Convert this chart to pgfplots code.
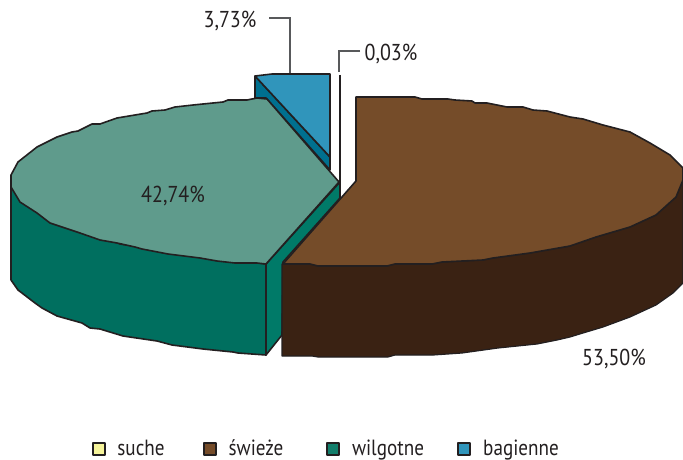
\documentclass[border=0pt]{standalone}
\usepackage{pgfplots}
\pgfplotsset{compat=1.18}
\usepackage{fontspec}
\setmainfont[FakeStretch=0.87]{PT Sans}
\definecolor{ln}{HTML}{231F20}
\definecolor{brT}{HTML}{754C29}
\definecolor{brS}{HTML}{3A2213}
\definecolor{grT}{HTML}{5F9B8C}
\definecolor{grS}{HTML}{006F5F}
\definecolor{grI}{HTML}{007A68}
\definecolor{blT}{HTML}{3095BB}
\definecolor{blS}{HTML}{00708F}
\definecolor{ye}{HTML}{F6F49A}
\definecolor{lg}{HTML}{127E6B}
\definecolor{ld}{HTML}{58595B}
\begin{document}
\begin{tikzpicture}
\useasboundingbox (0,0) rectangle (683pt,460pt);
\begin{axis}[at={(0,0)},anchor=south west,scale only axis,width=683pt,height=460pt,xmin=0,xmax=683,ymin=0,ymax=460,y dir=reverse,axis lines=none,
  every axis plot/.append style={line width=1.6pt,draw=ln,mark=none,line join=round}]
% bagienne
\addplot[fill=blS] coordinates {(255,76)(330,157)(330,170)(266,98)(255,98)} -- cycle;
\addplot[fill=blT] coordinates {(255,76)(272,74)(330,74)(330,157)} -- cycle;
% wilgotne
\addplot[fill=grS] coordinates {(11,187)(11,280)(18,290)(35,303)(42,308)(57,316)(82,323)(90,328)(100,329)(123,336)(157,341)(172,345)(203,349)(233,352)(238,353)(266,355)(266,264)(120,244)} -- cycle;
\addplot[fill=grI] coordinates {(266,264)(340,182)(340,198)(283,262)(282,335)(266,355)} -- cycle;
\addplot[fill=grT] coordinates {(266,264)(339,182)(267,99)(257,98)(247,100)(228,100)(223,102)(193,105)(175,107)(165,110)(152,111)(147,113)(117,118)(100,124)(92,124)(78,131)(72,132)(57,137)(37,147)(18,162)(11,175)(11,187)(20,202)(37,213)(50,223)(80,233)(100,240)(117,243)(135,247)(142,249)(168,254)(200,258)(217,261)(235,263)(257,263)} -- cycle;
% 0,03
\addplot[line width=1.5pt] coordinates {(340,75)(340,182)};
% swieze
\addplot[fill=brS,line width=1.2pt] coordinates {(282,264)(282,356)(312,356)(318,357)(388,357)(395,355)(433,355)(462,353)(498,348)(537,344)(557,340)(570,337)(583,333)(603,327)(630,317)(656,305)(673,293)(683,283)(683,180)(676,197)(656,215)(630,227)(596,237)(570,246)(530,253)(493,258)(483,260)(442,262)(432,264)(395,264)(387,266)(318,266)(310,264)} -- cycle;
\addplot[fill=brT] coordinates {(356,97)(415,97)(422,99)(448,99)(455,100)(472,101)(475,103)(487,103)(507,107)(523,107)(533,110)(547,111)(570,117)(583,119)(603,125)(630,132)(650,143)(670,155)(683,168)(683,180)(676,197)(656,215)(630,227)(596,237)(570,246)(530,253)(493,258)(483,260)(442,262)(432,264)(395,264)(387,266)(318,266)(310,264)(283,264)(356,181)} -- cycle;
% leaders
\addplot[draw=ld,line width=1.1pt,line join=miter] coordinates {(269,18)(290,18)(290,73)};
\addplot[draw=ld,line width=1.1pt,line join=miter] coordinates {(360,51)(339,51)(339,72)};
% legend keys
\addplot[only marks,mark=square*,mark size=6pt,mark options={fill=ye,draw=ln,line width=1.2pt}] coordinates {(99,449)};
\addplot[only marks,mark=square*,mark size=6pt,mark options={fill=brT,draw=ln,line width=1.2pt}] coordinates {(210,449)};
\addplot[only marks,mark=square*,mark size=6pt,mark options={fill=lg,draw=ln,line width=1.2pt}] coordinates {(333,449)};
\addplot[only marks,mark=square*,mark size=6pt,mark options={fill=blT,draw=ln,line width=1.2pt}] coordinates {(464,449)};
% texts
\begin{scope}[every node/.style={font=\fontsize{23}{26}\selectfont,text=ln,inner sep=0pt,anchor=base}]
\node at (axis cs:230,28) {3,73\%};
\node at (axis cs:391,60) {0,03\%};
\node at (axis cs:173,202) {42,74\%};
\node at (axis cs:614,365) {53,50\%};
\end{scope}
\begin{scope}[every node/.style={font=\fontsize{22}{25}\selectfont,text=ln,inner sep=0pt,anchor=base}]
\node at (axis cs:141,455) {suche};
\node at (axis cs:256,455) {świeże};
\node at (axis cs:388,455) {wilgotne};
\node at (axis cs:521,455) {bagienne};
\end{scope}
\end{axis}
\end{tikzpicture}
\end{document}
